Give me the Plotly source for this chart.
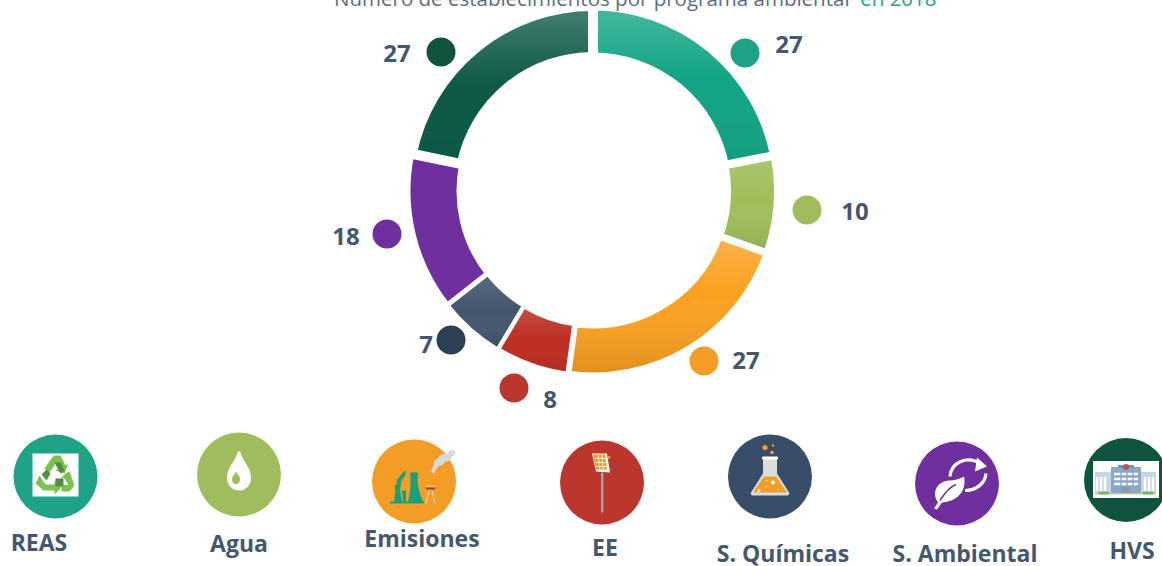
import base64, math
import plotly.graph_objects as go

W, H = 1162, 566
# ---- data
programs = ["REAS", "Agua", "Emisiones", "EE", "S. Químicas", "S. Ambiental", "HVS"]
value_labels = [27, 10, 27, 8, 7, 18, 27]
slice_sizes = [27.2, 10.6, 26.9, 8.0, 7.2, 17.1, 27.0]   # arc lengths as measured on the picture
colors = ["#13a585", "#a0bf5a", "#fba120", "#bd2f23", "#42556d", "#6f2f9f", "#0e5a47"]
dot_colors = ["#1fa386", "#a0bd5e", "#f39c26", "#bb372d", "#2b3f55", "#702f9f", "#10533f"]
icon_colors = ["#1fa386", "#a0bd5e", "#f39c26", "#bb372d", "#384e68", "#702f9f", "#10533f"]
gaps = [9, 8, 7, 5, 4, 5, 10]

# ---- layout positions (pixels on the canvas)
CX, CY, R_OUT, R_IN = 593, 191, 185, 134
dot_x = [745, 807, 704, 514, 451, 387, 441]
dot_y = [53, 210, 361, 388, 340, 234, 52]
val_x = [789, 855, 746, 550, 426, 346, 397]
val_y = [47, 214, 363, 402, 347, 239, 56]
icon_x = [55.5, 239, 414, 602, 770, 957, 1126]
icon_y = [476.5, 474.5, 481.5, 482.5, 476.5, 483.5, 480]
name_x = [39, 239, 422, 605, 783, 965, 1132]
name_y = [545, 546, 541, 550, 556, 556, 553]

# shading per slice: (offset, colour, opacity)
shades = [
    [(0, "#fff", .22), (.45, "#fff", .0), (1, "#000", .05)],
    [(0, "#fff", .12), (.45, "#fff", .0), (1, "#000", .12)],
    [(0, "#fff", .20), (.40, "#fff", .0), (1, "#000", .12)],
    [(0, "#fff", .16), (.50, "#fff", .0), (1, "#000", .08)],
    [(0, "#fff", .14), (.50, "#fff", .0), (1, "#000", .16)],
    [(0, "#fff", .0), (1, "#fff", .0)],
    [(0, "#fff", .24), (.50, "#fff", .0), (1, "#000", .02)],
]

ICONS = [
    # REAS
    '''<rect x="-23" y="-23" width="46" height="43" fill="#fff"/>
    <path d="M-2 -21 L5 -21 L10 -11 L13 -13 L9 -3 L0 -6 L3 -8 L0 -13 L-6 -4 L-11 -8Z" fill="#7cc24e"/>
    <path d="M-16 -1 L-10 8 L-1 8 L-1 4 L6 11 L-1 18 L-1 14 L-12 14 L-20 7Z" fill="#7cc24e"/>
    <path d="M10 -3 L14 -5 L19 9 L14 15 L6 15 L6 9 L13 8 L8 1 L5 2Z" fill="#7cc24e"/>
    <path d="M-1 -15 L5 -15 L9 -7 L5 -4 Z M-14 -3 L-9 -8 L-5 -4 L-9 3 Z M0 1 L8 1 L8 9 L0 9Z" fill="#4f8f3f" transform="translate(0,1)"/>''',
    # Agua
    '''<path d="M-1.5 -22 C-4 -12 -12 -8 -12 4 A12 12 0 0 0 12 4 C12 -8 4 -12 1.5 -22 Q0 -25 -1.5 -22Z" fill="#fff"/>
    <path d="M-1 -3 C-2 0 -5 1 -5 5 A4 4.5 0 0 0 3 5 C3 1 0 0 -1 -3Z" fill="#a0bd5e" transform="translate(-2,0)"/>''',
    # Emisiones
    '''<path d="M-24 22 L-24 20 L-20 20 Q-18 12 -19 3 L-14 3 Q-14 12 -12 20 L-11 20 L-12 9 L-8 9 L-8 20 L-6 20 Q-2 6 -4 -9 L4 -9 Q2 6 9 20 L10 20 L10 22Z" fill="#15a07f"/>
    <path d="M-16 5 Q-19 -2 -15 -4 Q-12 -9 -9 -11 Q-7 -7 -11 -3 Q-14 -1 -13 5Z" fill="#15a07f"/>
    <path d="M17 -10 L20 -17 Q19 -22 24 -23 Q26 -29 33 -27 Q35 -33 41 -31 Q42 -26 38 -25 Q36 -19 31 -20 Q29 -15 25 -16 L20 -8Z" fill="#d9d9d9"/>
    <rect x="12" y="6" width="9" height="2" fill="#bb372d"/><rect x="12" y="4" width="9" height="1" fill="#e7d9b0"/>
    <path d="M15 9 L12 22 M18 9 L21 22" stroke="#ddd" stroke-width="1" fill="none"/>''',
    # EE
    '''<rect x="-1" y="-10" width="2.4" height="40" fill="#a3a3a3"/>
    <path d="M-10 -29 L5 -29 L8 -10 L-6 -11Z" fill="#fff"/><path d="M-9 -28 L3 -28 L5 -13 L-6 -13Z" fill="#e69a30"/>
    <path d="M-7 -24 L4 -24 M-6 -20 L4 -20 M-6 -16 L5 -16 M-4 -28 L-2 -13 M0 -28 L1 -13" stroke="#fff" stroke-width=".8"/>
    <circle cx="7" cy="-25" r="1.4" fill="#f39c26"/>''',
    # Quimicas
    '''<path d="M-7 -19 L7 -19 L7 -3 L19 16 Q20 19 17 19 L-17 19 Q-20 19 -19 16 L-7 -3Z" fill="#dcdcdc"/>
    <rect x="-8" y="-20" width="16" height="3" rx="1" fill="#fff"/>
    <path d="M-6 0 L6 0 L17 16 L-17 16Z" fill="#f39c26"/>
    <circle cx="3" cy="6" r="2" fill="#fff"/><circle cx="-11" cy="14" r="1.5" fill="#fff"/><circle cx="-3" cy="4" r=".8" fill="#fff"/><circle cx="-4" cy="10" r=".8" fill="#fff"/><circle cx="8" cy="13" r=".8" fill="#fff"/>
    <circle cx="-5" cy="-29" r="2.6" fill="#f39c26"/><circle cx="2" cy="-24" r="1.8" fill="#f39c26"/><circle cx="3" cy="-31" r="1.2" fill="#f39c26"/>''',
    # Ambiental
    '''<path d="M-23 25 L-19 19 C-26 9 -20 -2 -8 -3 Q0 -3 7 -7 C9 2 6 17 -15 19 L-20 26Z" fill="#fff"/>
    <path d="M-17 17 Q-9 4 -1 1" stroke="#702f9f" stroke-width="1.5" fill="none"/>
    <path d="M-7 -7 C-6 -21 10 -29 25 -19" stroke="#fff" stroke-width="3.2" fill="none"/>
    <path d="M20 -26 L30 -17 L18 -12Z" fill="#fff"/>
    <path d="M8 7 C18 7 28 1 29 -10" stroke="#fff" stroke-width="3.2" fill="none"/>''',
    # HVS
    '''<rect x="-33" y="-19" width="66" height="37" fill="#fff"/>
    <rect x="-31" y="-8" width="61" height="21" fill="#c7d6e4"/>
    <rect x="-15" y="-13" width="30" height="26" fill="#8aa9c8"/>
    <rect x="-8" y="-15" width="16" height="3" fill="#7494b4"/>
    <circle cx="0" cy="-13" r="3" fill="#c0504d"/>
    <path d="M-12 -6 H12 M-12 -1 H12 M-12 4 H12" stroke="#fff" stroke-width="2.4"/>
    <path d="M-5 -9 V8 M1 -9 V8 M7 -9 V8" stroke="#8aa9c8" stroke-width="1.4"/>
    <rect x="-5" y="7" width="10" height="6" fill="#8a9aa8"/>
    <path d="M-29 -3 V11 M-25 -3 V11 M-21 -3 V11 M19 -3 V11 M23 -3 V11 M27 -3 V11" stroke="#fff" stroke-width="2.4"/>
    <rect x="-31" y="13" width="61" height="1.5" fill="#b9d48c"/>
    <ellipse cx="-22" cy="13" rx="6" ry="1.6" fill="#7cb85a"/><ellipse cx="22" cy="13" rx="6" ry="1.6" fill="#7cb85a"/>''',
]


def slice_path(a0, a1):
    """Annular sector between two angles (clockwise from 12 o'clock)."""
    p = lambda r, a: (CX + r * math.sin(a), CY - r * math.cos(a))
    large = 1 if a1 - a0 > math.pi else 0
    x0, y0 = p(R_OUT, a0); x1, y1 = p(R_OUT, a1)
    x2, y2 = p(R_IN, a1); x3, y3 = p(R_IN, a0)
    return (f"M{x0:.2f} {y0:.2f}A{R_OUT} {R_OUT} 0 {large} 1 {x1:.2f} {y1:.2f}"
            f"L{x2:.2f} {y2:.2f}A{R_IN} {R_IN} 0 {large} 0 {x3:.2f} {y3:.2f}Z")


def overlay_svg():
    total = sum(slice_sizes)
    defs, body, acc = [], [], 0
    for i, v in enumerate(slice_sizes):
        a0 = acc / total * 2 * math.pi
        acc += v
        a1 = acc / total * 2 * math.pi
        d = slice_path(a0, a1)
        stops = "".join(f'<stop offset="{o}" stop-color="{c}" stop-opacity="{a}"/>' for o, c, a in shades[i])
        defs.append(f'<linearGradient id="g{i}" x1="0" y1="0" x2="0" y2="1">{stops}</linearGradient>')
        defs.append(f'<mask id="m{i}" maskUnits="userSpaceOnUse" x="0" y="0" width="{W}" height="{H}">'
                    f'<path d="{d}" fill="#fff" stroke="#000" stroke-width="{gaps[i]}"/></mask>')
        body.append(f'<g mask="url(#m{i})"><path d="{d}" fill="url(#g{i})"/></g>')
    for x, y, g in zip(icon_x, icon_y, ICONS):
        body.append(f'<g transform="translate({x},{y})">{g}</g>')
    svg = (f'<svg xmlns="http://www.w3.org/2000/svg" width="{W}" height="{H}" viewBox="0 0 {W} {H}">'
           f'<defs>{"".join(defs)}</defs>{"".join(body)}</svg>')
    return "data:image/svg+xml;base64," + base64.b64encode(svg.encode()).decode()


FONT = "Open Sans, Lato, sans-serif"
INK = "#45566f"
fig = go.Figure()
fig.add_trace(go.Pie(
    labels=programs, values=slice_sizes, sort=False, direction="clockwise", rotation=0,
    hole=R_IN / R_OUT, textinfo="none", showlegend=False,
    marker=dict(colors=colors, line=dict(color="#fff", width=gaps)),
    domain=dict(x=[(CX - R_OUT) / W, (CX + R_OUT) / W],
                y=[1 - (CY + R_OUT) / H, 1 - (CY - R_OUT) / H]),
))
fig.add_trace(go.Scatter(x=icon_x, y=icon_y, mode="markers", hoverinfo="skip", showlegend=False,
                         marker=dict(size=84, color=icon_colors, line=dict(width=0))))
fig.add_trace(go.Scatter(x=dot_x, y=dot_y, mode="markers", hoverinfo="skip", showlegend=False,
                         marker=dict(size=29, color=dot_colors, line=dict(width=0))))
fig.add_trace(go.Scatter(x=val_x, y=val_y, mode="text", text=[str(v) for v in value_labels], hoverinfo="skip",
                         showlegend=False, textposition="middle center",
                         textfont=dict(family=FONT, size=24, color=INK, weight=700)))
fig.add_trace(go.Scatter(x=name_x, y=name_y, mode="text", text=programs, hoverinfo="skip",
                         showlegend=False, textposition="middle center",
                         textfont=dict(family=FONT, size=23, color=INK, weight=700)))
fig.update_layout(
    width=W, height=H, autosize=False, margin=dict(l=0, r=0, t=0, b=0),
    paper_bgcolor="#fff", plot_bgcolor="#fff",
    xaxis=dict(range=[0, W], visible=False, fixedrange=True),
    yaxis=dict(range=[H, 0], visible=False, fixedrange=True),
    images=[dict(source=overlay_svg(), xref="paper", yref="paper", x=0, y=1, sizex=1, sizey=1,
                 sizing="stretch", xanchor="left", yanchor="top", layer="above")],
    annotations=[dict(
        text='Número de establecimientos por programa ambiental  <span style="color:#1fa386">en 2018</span>',
        xref="paper", yref="paper", x=635 / W, y=1 + 2 / H, xanchor="center", yanchor="middle",
        showarrow=False, font=dict(family=FONT, size=20.5, color="#5b6b82"))],
)
fig.write_html("out.html", config=dict(displayModeBar=False),
               post_script="document.body.style.margin='0';")
